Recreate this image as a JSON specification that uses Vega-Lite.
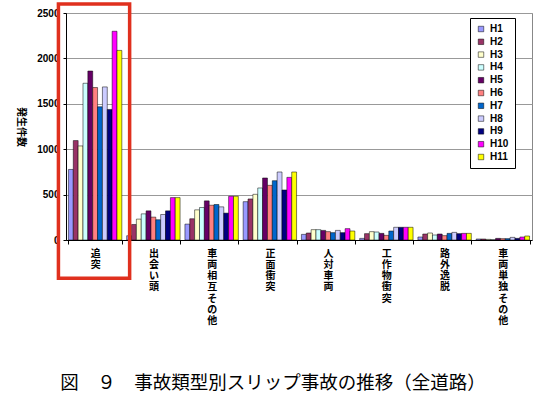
{
  "$schema": "https://vega.github.io/schema/vega-lite/v6.json",
  "width": 466,
  "height": 227,
  "autosize": {"type": "none"},
  "padding": {"left": 66, "top": 13, "right": 18, "bottom": 159},
  "background": "white",
  "title": {
    "text": "図　９　事故類型別スリップ事故の推移（全道路）",
    "orient": "bottom",
    "anchor": "middle",
    "dx": -26,
    "offset": 48,
    "font": "Noto Sans CJK JP",
    "fontSize": 18.5,
    "fontWeight": "normal",
    "color": "#000"
  },
  "config": {
    "font": "Noto Sans CJK JP",
    "view": {"stroke": "#888", "strokeWidth": 1},
    "axis": {"labelColor": "#000", "titleColor": "#000"}
  },
  "datasets": {
    "accidents": [
      {"cat": "追突", "year": "H1", "value": 777},
      {"cat": "追突", "year": "H2", "value": 1095},
      {"cat": "追突", "year": "H3", "value": 1036},
      {"cat": "追突", "year": "H4", "value": 1726},
      {"cat": "追突", "year": "H5", "value": 1861},
      {"cat": "追突", "year": "H6", "value": 1679},
      {"cat": "追突", "year": "H7", "value": 1467},
      {"cat": "追突", "year": "H8", "value": 1686},
      {"cat": "追突", "year": "H9", "value": 1438},
      {"cat": "追突", "year": "H10", "value": 2299},
      {"cat": "追突", "year": "H11", "value": 2088},
      {"cat": "出会い頭", "year": "H1", "value": 47},
      {"cat": "出会い頭", "year": "H2", "value": 171},
      {"cat": "出会い頭", "year": "H3", "value": 230},
      {"cat": "出会い頭", "year": "H4", "value": 288},
      {"cat": "出会い頭", "year": "H5", "value": 321},
      {"cat": "出会い頭", "year": "H6", "value": 252},
      {"cat": "出会い頭", "year": "H7", "value": 223},
      {"cat": "出会い頭", "year": "H8", "value": 281},
      {"cat": "出会い頭", "year": "H9", "value": 321},
      {"cat": "出会い頭", "year": "H10", "value": 467},
      {"cat": "出会い頭", "year": "H11", "value": 467},
      {"cat": "車両相互その他", "year": "H1", "value": 175},
      {"cat": "車両相互その他", "year": "H2", "value": 234},
      {"cat": "車両相互その他", "year": "H3", "value": 332},
      {"cat": "車両相互その他", "year": "H4", "value": 358},
      {"cat": "車両相互その他", "year": "H5", "value": 431},
      {"cat": "車両相互その他", "year": "H6", "value": 383},
      {"cat": "車両相互その他", "year": "H7", "value": 391},
      {"cat": "車両相互その他", "year": "H8", "value": 365},
      {"cat": "車両相互その他", "year": "H9", "value": 296},
      {"cat": "車両相互その他", "year": "H10", "value": 482},
      {"cat": "車両相互その他", "year": "H11", "value": 482},
      {"cat": "正面衝突", "year": "H1", "value": 422},
      {"cat": "正面衝突", "year": "H2", "value": 452},
      {"cat": "正面衝突", "year": "H3", "value": 503},
      {"cat": "正面衝突", "year": "H4", "value": 573},
      {"cat": "正面衝突", "year": "H5", "value": 683},
      {"cat": "正面衝突", "year": "H6", "value": 602},
      {"cat": "正面衝突", "year": "H7", "value": 653},
      {"cat": "正面衝突", "year": "H8", "value": 749},
      {"cat": "正面衝突", "year": "H9", "value": 551},
      {"cat": "正面衝突", "year": "H10", "value": 690},
      {"cat": "正面衝突", "year": "H11", "value": 749},
      {"cat": "人対車両", "year": "H1", "value": 62},
      {"cat": "人対車両", "year": "H2", "value": 77},
      {"cat": "人対車両", "year": "H3", "value": 114},
      {"cat": "人対車両", "year": "H4", "value": 114},
      {"cat": "人対車両", "year": "H5", "value": 106},
      {"cat": "人対車両", "year": "H6", "value": 92},
      {"cat": "人対車両", "year": "H7", "value": 81},
      {"cat": "人対車両", "year": "H8", "value": 106},
      {"cat": "人対車両", "year": "H9", "value": 81},
      {"cat": "人対車両", "year": "H10", "value": 125},
      {"cat": "人対車両", "year": "H11", "value": 99},
      {"cat": "工作物衝突", "year": "H1", "value": 18},
      {"cat": "工作物衝突", "year": "H2", "value": 70},
      {"cat": "工作物衝突", "year": "H3", "value": 92},
      {"cat": "工作物衝突", "year": "H4", "value": 88},
      {"cat": "工作物衝突", "year": "H5", "value": 73},
      {"cat": "工作物衝突", "year": "H6", "value": 51},
      {"cat": "工作物衝突", "year": "H7", "value": 99},
      {"cat": "工作物衝突", "year": "H8", "value": 140},
      {"cat": "工作物衝突", "year": "H9", "value": 140},
      {"cat": "工作物衝突", "year": "H10", "value": 140},
      {"cat": "工作物衝突", "year": "H11", "value": 140},
      {"cat": "路外逸脱", "year": "H1", "value": 33},
      {"cat": "路外逸脱", "year": "H2", "value": 66},
      {"cat": "路外逸脱", "year": "H3", "value": 77},
      {"cat": "路外逸脱", "year": "H4", "value": 55},
      {"cat": "路外逸脱", "year": "H5", "value": 66},
      {"cat": "路外逸脱", "year": "H6", "value": 48},
      {"cat": "路外逸脱", "year": "H7", "value": 73},
      {"cat": "路外逸脱", "year": "H8", "value": 84},
      {"cat": "路外逸脱", "year": "H9", "value": 70},
      {"cat": "路外逸脱", "year": "H10", "value": 73},
      {"cat": "路外逸脱", "year": "H11", "value": 73},
      {"cat": "車両単独その他", "year": "H1", "value": 11},
      {"cat": "車両単独その他", "year": "H2", "value": 11},
      {"cat": "車両単独その他", "year": "H3", "value": 7},
      {"cat": "車両単独その他", "year": "H4", "value": 4},
      {"cat": "車両単独その他", "year": "H5", "value": 18},
      {"cat": "車両単独その他", "year": "H6", "value": 15},
      {"cat": "車両単独その他", "year": "H7", "value": 15},
      {"cat": "車両単独その他", "year": "H8", "value": 29},
      {"cat": "車両単独その他", "year": "H9", "value": 18},
      {"cat": "車両単独その他", "year": "H10", "value": 33},
      {"cat": "車両単独その他", "year": "H11", "value": 44}
    ],
    "highlight": [
      {"cat": "追突", "top": 2600, "bottom": -420}
    ]
  },
  "layer": [
    {
      "data": {"name": "accidents"},
      "mark": {"type": "bar", "stroke": "#000", "strokeWidth": 0.5},
      "encoding": {
        "x": {
          "field": "cat",
          "type": "nominal",
          "sort": ["追突", "出会い頭", "車両相互その他", "正面衝突", "人対車両", "工作物衝突", "路外逸脱", "車両単独その他"],
          "scale": {"domain": ["追突", "出会い頭", "車両相互その他", "正面衝突", "人対車両", "工作物衝突", "路外逸脱", "車両単独その他"], "paddingInner": 0.083, "paddingOuter": 0.0417},
          "axis": {
            "title": null,
            "labelAngle": 0,
            "labelExpr": "split(datum.label, '')",
            "labelFont": "Noto Sans CJK JP",
            "labelFontSize": 10,
            "labelFontWeight": "bold",
            "labelLineHeight": 11.3,
            "labelBaseline": "top",
            "labelPadding": 4,
            "domainColor": "#000",
            "tickColor": "#000",
            "tickBand": "extent",
            "tickSize": 4,
            "grid": false
          }
        },
        "xOffset": {
          "field": "year",
          "type": "nominal",
          "sort": ["H1", "H2", "H3", "H4", "H5", "H6", "H7", "H8", "H9", "H10", "H11"],
          "scale": {"paddingInner": 0, "paddingOuter": 0}
        },
        "y": {
          "field": "value",
          "type": "quantitative",
          "scale": {"domain": [0, 2500], "nice": false},
          "axis": {
            "title": "発生件数",
            "titleFont": "Noto Sans CJK JP",
            "titleFontSize": 10,
            "titleFontWeight": "bold",
            "titleAngle": 90,
            "titlePadding": 21,
            "values": [0, 500, 1000, 1500, 2000, 2500],
            "format": "d",
            "labelFont": "Liberation Sans",
            "labelFontSize": 10,
            "labelFontWeight": "bold",
            "labelPadding": 4,
            "tickSize": 3,
            "tickColor": "#000",
            "domainColor": "#000",
            "gridColor": "#999",
            "gridWidth": 1
          }
        },
        "color": {
          "field": "year",
          "type": "nominal",
          "sort": ["H1", "H2", "H3", "H4", "H5", "H6", "H7", "H8", "H9", "H10", "H11"],
          "scale": {
            "domain": ["H1", "H2", "H3", "H4", "H5", "H6", "H7", "H8", "H9", "H10", "H11"],
            "range": ["#9999FF", "#993366", "#FFFFCC", "#CCFFFF", "#660066", "#FF8080", "#0066CC", "#CCCCFF", "#000080", "#FF00FF", "#FFFF00"]
          },
          "legend": {
            "title": null,
            "orient": "none",
            "legendX": 404,
            "legendY": 5,
            "symbolType": "square",
            "symbolSize": 30,
            "symbolStrokeColor": "#000",
            "symbolStrokeWidth": 0.5,
            "labelFont": "Liberation Sans",
            "labelFontSize": 10,
            "labelFontWeight": "bold",
            "labelColor": "#000",
            "rowPadding": 2.8,
            "padding": 6,
            "strokeColor": "#000",
            "fillColor": "#fff"
          }
        }
      }
    },
    {
      "data": {"name": "highlight"},
      "mark": {"type": "rect", "fill": null, "fillOpacity": 0, "stroke": "#E0301E", "strokeWidth": 3.5, "xOffset": -10, "x2Offset": 34.5, "clip": false},
      "encoding": {
        "x": {"field": "cat", "type": "nominal", "bandPosition": 0},
        "x2": {"field": "cat"},
        "y": {"field": "top", "type": "quantitative"},
        "y2": {"field": "bottom"}
      }
    }
  ]
}
